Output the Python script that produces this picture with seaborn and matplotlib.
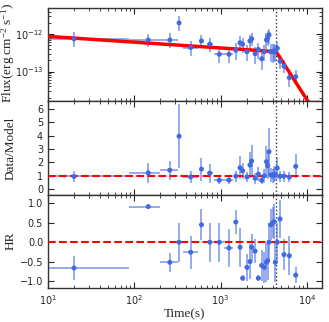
import matplotlib
matplotlib.use("Agg")
import matplotlib.pyplot as plt
import seaborn as sns
import numpy as np
import pandas as pd

# time bins (s)
t = [20, 145, 258, 330, 450, 600, 750, 965, 1250, 1500, 1680, 1800, 2020, 2190, 2290, 2510,
     2740, 2990, 3210, 3400, 3510, 3640, 3800, 4010, 4160, 4300, 4540, 4880, 5430, 6260, 7420]
t_lo = [10, 87, 200, 322, 365, 575, 690, 845, 1100, 1430, 1620, 1750, 1950, 2120, 2240, 2420,
        2640, 2900, 3120, 3330, 3460, 3590, 3720, 3920, 4090, 4230, 4440, 4720, 5200, 6000, 7100]
t_hi = [87, 200, 322, 340, 550, 625, 810, 1100, 1380, 1570, 1740, 1860, 2090, 2260, 2350, 2600,
        2840, 3080, 3300, 3460, 3570, 3700, 3880, 4100, 4230, 4380, 4640, 5050, 5700, 6550, 7750]

# flux in 1e-13 erg/cm2/s
flux = [7.5, 7.0, 7.0, 20, 4.4, 6.6, 5.4, 2.9, 2.9, 3.7, 5.9, 5.4, 3.4, 6.6, 7.5, 3.0,
        3.9, 2.2, 3.4, 7.0, 8.1, 9.6, 3.4, 3.4, 3.6, 3.4, 4.2, 1.9, 1.4, 0.69, 0.73]
flux_up = [3.8, 3.0, 3.5, 11, 2.0, 2.8, 2.5, 1.4, 1.4, 2.0, 3.0, 2.6, 1.8, 3.0, 3.5, 1.6,
           2.0, 1.3, 1.8, 3.5, 4.0, 4.5, 2.0, 2.0, 2.0, 1.8, 2.0, 0.8, 0.6, 0.35, 0.35]
flux_dn = [2.9, 2.5, 2.7, 8, 1.8, 2.4, 2.0, 1.2, 1.2, 1.6, 2.3, 2.2, 1.5, 2.5, 2.8, 1.4,
           1.7, 1.1, 1.5, 3.0, 3.3, 4.0, 1.6, 1.7, 1.7, 1.6, 1.7, 0.7, 0.5, 0.3, 0.3]

ratio = [0.95, 1.22, 1.42, 3.95, 0.92, 1.5, 1.2, 0.67, 0.68, 0.97, 1.6, 1.37, 0.92, 1.8, 2.1, 0.82,
         1.12, 0.67, 1.0, 2.05, 1.75, 2.8, 1.07, 1.0, 1.12, 1.1, 1.57, 0.97, 0.97, 0.9, 1.7]
ratio_err = [0.43, 0.77, 0.7, 2.4, 0.45, 0.85, 0.7, 0.25, 0.3, 0.4, 0.85, 0.6, 0.4, 1.0, 1.2, 0.4,
             0.5, 0.3, 0.5, 1.2, 1.0, 1.75, 0.5, 0.5, 0.6, 0.5, 0.8, 0.4, 0.4, 0.35, 0.9]

hr = [-0.667, 0.92, -0.52, 0.0, -0.26, 0.45, 0.0, 0.0, -0.15, 0.52, -0.13, -0.93, -0.65, -0.5, -0.13, -0.23,
      -0.93, -0.6, -0.65, -0.52, -0.48, 0.0, 0.45, 0.5, 0.53, -0.52, 0.0, 0.6, -0.32, -0.35, -0.85]
hr_err = [0.3, 0.05, 0.25, 0.5, 0.42, 0.4, 0.5, 0.5, 0.5, 0.3, 0.5, 0.07, 0.35, 0.45, 0.35, 0.3,
          0.07, 0.4, 0.4, 0.5, 0.5, 0.5, 0.4, 0.4, 0.45, 0.5, 0.5, 0.5, 0.4, 0.5, 0.2]

# broken power law model
f_break = 3.4e-13
t_break = 4400
alpha1 = 0.155
alpha2 = 3.6

df = pd.DataFrame({"t": t, "flux": np.array(flux) * 1e-13, "ratio": ratio, "hr": hr})
xerr = [np.array(t) - np.array(t_lo), np.array(t_hi) - np.array(t)]

tm = np.logspace(1, np.log10(1.5e4), 400)
model = np.where(tm < t_break, f_break * (tm / t_break) ** (-alpha1),
                 f_break * (tm / t_break) ** (-alpha2))
mdf = pd.DataFrame({"t": tm, "model": model})

sns.set_style("ticks")
plt.rcParams["font.family"] = ["DejaVu Sans"]
plt.rcParams["xtick.direction"] = "in"
plt.rcParams["ytick.direction"] = "in"

blue = "#4169e1"
lab_font = {"family": "Liberation Serif", "size": 9.5}

fig, axes = plt.subplots(3, 1, figsize=(3.29, 3.22), dpi=100, sharex=True)
fig.subplots_adjust(left=0.146, right=0.979, top=0.975, bottom=0.106, hspace=0)
ax1, ax2, ax3 = axes

# flux
sns.lineplot(data=mdf, x="t", y="model", color="red", lw=2.5, ax=ax1, zorder=3)
ax1.errorbar(df.t, df.flux, yerr=[np.array(flux_dn) * 1e-13, np.array(flux_up) * 1e-13],
             xerr=xerr, fmt="none", ecolor=blue, alpha=0.6, elinewidth=1.3, zorder=2)
sns.scatterplot(data=df, x="t", y="flux", color=blue, s=13, edgecolor="none", ax=ax1, zorder=4)
ax1.set_yscale("log")
ax1.set_ylim(1.6e-14, 5e-12)
ax1.set_yticks([1e-13, 1e-12])
ax1.set_yticks([k * 1e-14 for k in range(2, 10)] + [k * 1e-13 for k in range(2, 10)]
               + [k * 1e-12 for k in range(2, 5)], minor=True)
ax1.set_yticklabels([], minor=True)
ax1.set_ylabel(r"Flux(erg cm$\mathregular{^{-2}}$ s$\mathregular{^{-1}}$)", fontdict=lab_font)

# data/model
ax2.errorbar(df.t, df.ratio, yerr=ratio_err, xerr=xerr, fmt="none", ecolor=blue, alpha=0.6,
             elinewidth=1.3, zorder=2)
sns.scatterplot(data=df, x="t", y="ratio", color=blue, s=13, edgecolor="none", ax=ax2, zorder=4)
ax2.axhline(1, color="red", ls="--", lw=1.5, zorder=3)
ax2.set_ylim(-0.4, 6.55)
ax2.set_yticks([0, 1, 2, 3, 4, 5, 6])
ax2.set_ylabel("Data/Model", fontdict=lab_font)

# hardness ratio
ax3.errorbar(df.t, df.hr, yerr=hr_err, xerr=xerr, fmt="none", ecolor=blue, alpha=0.6,
             elinewidth=1.3, zorder=2)
sns.scatterplot(data=df, x="t", y="hr", color=blue, s=13, edgecolor="none", ax=ax3, zorder=4)
ax3.axhline(0, color="red", ls="--", lw=1.5, zorder=3)
ax3.set_ylim(-1.18, 1.23)
ax3.set_yticks([-1.0, -0.5, 0.0, 0.5, 1.0])
ax3.set_ylabel("HR", fontdict=lab_font)
ax3.set_xlabel("Time(s)", fontdict=lab_font, labelpad=1)

for ax in axes:
    ax.set_xscale("log")
    ax.set_xlim(10, 1.5e4)
    ax.axvline(t_break, color="#333333", ls=":", lw=1.0, zorder=1)
    ax.tick_params(which="both", top=True, right=True, labelsize=7)
    ax.tick_params(which="major", length=4)
    ax.tick_params(which="minor", length=2)
    ax.yaxis.set_label_coords(-0.115, 0.5)
    for s in ax.spines.values():
        s.set_color("#333333")
        s.set_linewidth(1.0)
    if ax is not ax3:
        ax.set_xlabel("")
ax1.yaxis.set_label_coords(-0.115, 0.52)

fig.savefig("out.png", dpi=100)
